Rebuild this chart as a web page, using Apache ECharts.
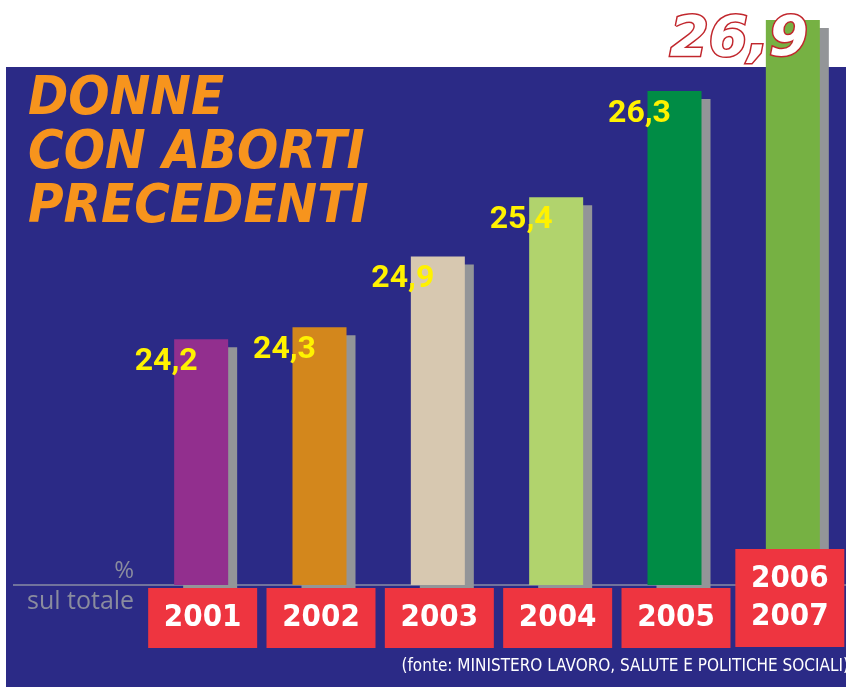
<!DOCTYPE html>
<html>
<head>
<meta charset="utf-8">
<script src="https://cdn.jsdelivr.net/npm/echarts@6/dist/echarts.min.js"></script>
<style>
  html, body { margin: 0; padding: 0; background: #fff; }
  #chart { width: 846px; height: 687px; }
</style>
</head>
<body>
<div id="chart"></div>
<script>
    // dati
    const years = ['2001', '2002', '2003', '2004', '2005', '2006\n2007'];
    const percent = [24.2, 24.3, 24.9, 25.4, 26.3, 26.9];
    const valueLabels = ['24,2', '24,3', '24,9', '25,4', '26,3', '26,9'];
    const barColors = ['#922f8e', '#d3871c', '#d7c8b0', '#b1d36d', '#008c45', '#76b143'];

    const axisMin = 22.12;
    const axisMax = 27.07;
    const blue = '#2b2a86';
    const lastIdx = years.length - 1;

    const chart = echarts.init(document.getElementById('chart'));

    const barData = percent.map(function (v, i) {
        const item = {
            value: v,
            itemStyle: { color: barColors[i] },
            label: { formatter: valueLabels[i] }
        };
        if (i === lastIdx) {
            // il 26,9 grande in alto
            item.label = {
                formatter: valueLabels[i],
                position: [-27, -8],
                fontFamily: 'DejaVu Sans',
                fontWeight: 'bold',
                fontStyle: 'italic',
                fontSize: 56,
                color: '#fff',
                textBorderColor: '#c1272d',
                textBorderWidth: 3,
                textShadowColor: '#b5121b',
                textShadowOffsetX: -3,
                textShadowOffsetY: 3,
                textShadowBlur: 0
            };
        }
        return item;
    });

    const option = {
        backgroundColor: '#fff',
        animation: false,
        title: {
            text: 'DONNE\nCON ABORTI\nPRECEDENTI',
            left: 23,
            top: 68,
            textStyle: {
                color: '#f7941d',
                fontFamily: 'DejaVu Sans Condensed',
                fontWeight: 'bold',
                fontStyle: 'italic',
                fontSize: 54,
                lineHeight: 54
            }
        },
        graphic: [
            { type: 'rect', z: -10, shape: { x: 6, y: 67, width: 840, height: 620 }, style: { fill: blue } },
            { type: 'line', z: -5, shape: { x1: 13, y1: 585, x2: 846, y2: 585 }, style: { stroke: '#8a8da3', lineWidth: 1.5 } },
            { type: 'text', right: 712, top: 559, style: { text: '%', fill: '#8a8c9e', font: '24px "Open Sans"' } },
            { type: 'text', left: 27, top: 589, style: { text: 'sul totale', fill: '#8a8c9e', font: '25px "Open Sans"' } },
            { type: 'text', right: -3, top: 658, style: { text: '(fonte: MINISTERO LAVORO, SALUTE E POLITICHE SOCIALI)', fill: '#fff', font: '17px "Liberation Sans Narrow", "DejaVu Sans Condensed"' } }
        ],
        grid: { left: 142, width: 710, top: 0, bottom: 102, outerBoundsMode: 'none', containLabel: false },
        xAxis: {
            type: 'category',
            data: years,
            axisLine: { show: false },
            axisTick: { show: false },
            axisLabel: { show: false },
            splitLine: { show: false }
        },
        yAxis: {
            type: 'value',
            min: axisMin,
            max: axisMax,
            show: false
        },
        series: [
            {
                type: 'bar',
                barWidth: 54,
                data: barData,
                itemStyle: {
                    shadowColor: '#939598',
                    shadowOffsetX: 9,
                    shadowOffsetY: 8,
                    shadowBlur: 0
                },
                label: {
                    show: true,
                    position: [-8, 7],
                    align: 'center',
                    verticalAlign: 'top',
                    color: '#fff200',
                    fontFamily: 'Roboto',
                    fontWeight: 'bold',
                    fontSize: 32
                },
                z: 3
            },
            {
                type: 'custom',
                clip: false,
                z: 4,
                data: years.map(function (y, i) { return [i]; }),
                renderItem: function (params, api) {
                    const idx = api.value(0);
                    const p = api.coord([idx, axisMin]);
                    const tall = idx === lastIdx;
                    const top = tall ? p[1] - 36 : p[1] + 3;
                    const h = tall ? 98 : 60;
                    const cx = tall ? p[0] - 3 : p[0] + 1.5;
                    return {
                        type: 'rect',
                        shape: { x: cx - 54.5, y: top, width: 109, height: h },
                        style: { fill: '#ee3540' },
                        textContent: {
                            style: {
                                text: years[idx],
                                fill: '#fff',
                                fontFamily: '"Liberation Sans Narrow", "DejaVu Sans Condensed"',
                                fontWeight: 'bold',
                                fontSize: 31,
                                lineHeight: 38,
                                align: 'center',
                                verticalAlign: 'middle'
                            }
                        },
                        textConfig: { position: 'inside' }
                    };
                }
            }
        ]
    };

    chart.setOption(option);
</script>
</body>
</html>
